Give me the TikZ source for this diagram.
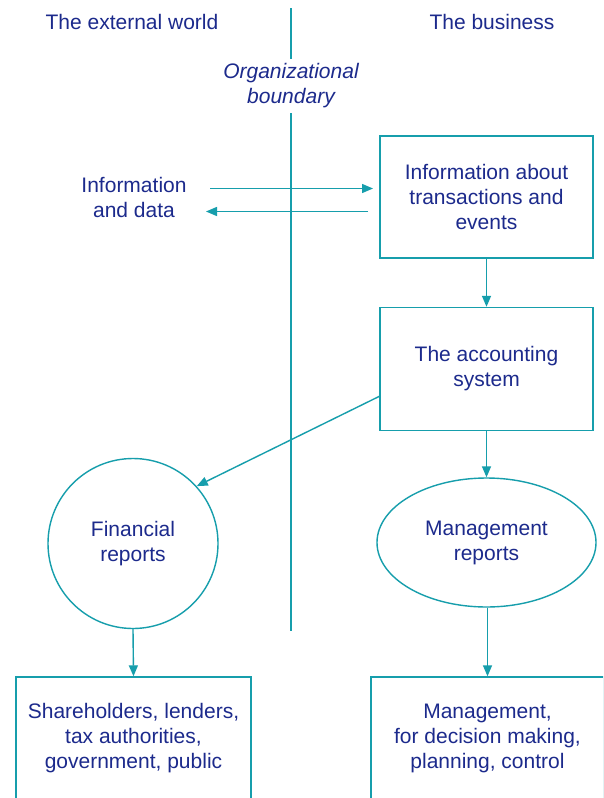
\documentclass[tikz,border=0pt]{standalone}
\usepackage{fontspec}
\setmainfont{Liberation Sans}
\usetikzlibrary{arrows.meta,shapes.geometric}
\definecolor{teal1}{RGB}{22,158,172}
\definecolor{ink}{RGB}{28,42,140}
\tikzset{
  every node/.style={font=\fontsize{21}{25}\selectfont, text=ink, align=center},
  conn/.style={draw=teal1, line width=1.4pt},
  arr/.style={conn, -{Triangle[length=11pt,width=9pt]}},
  boxx/.style={draw=teal1, line width=1.4pt, rectangle, inner sep=0pt},
}
\begin{document}
\begin{tikzpicture}[x=1pt,y=-1pt]
\clip (0,0) rectangle (603,798);
\fill[white] (0,0) rectangle (603,798);
% headings
\node (ext) at (132,22) {The external world};
\node (bus) at (492,22) {The business};
\node[font=\fontsize{21}{25}\selectfont\itshape] (org) at (291,86) {Organizational\\boundary};
% boundary line
\coordinate (ltop) at (291,8);
\coordinate (lga) at (291,59);
\coordinate (lgb) at (291,113);
\coordinate (lbot) at (291,631);
\draw[conn] (ltop) -- (lga);
\draw[conn] (lgb) -- (lbot);
% boxes
\node[boxx, minimum width=213pt, minimum height=122pt] (b1) at (486.5,197) {Information about\\transactions and\\events};
\node[boxx, minimum width=213pt, minimum height=123pt] (b2) at (486.5,369) {The accounting\\system};
\node[draw=teal1, line width=1.4pt, circle, minimum size=170pt, inner sep=0pt] (fin) at (133,543.5) {Financial\\reports};
\node[draw=teal1, line width=1.4pt, ellipse, minimum width=219pt, minimum height=129pt, inner sep=0pt] (mgr) at (486.5,542.5) {Management\\reports};
\node[boxx, minimum width=235pt, minimum height=123pt] (b3) at (133.5,738.5) {Shareholders, lenders,\\tax authorities,\\government, public};
\node[boxx, minimum width=233pt, minimum height=123pt] (b4) at (487.5,738.5) {Management,\\for decision making,\\planning, control};
% information and data
\node (info) at (134,197.5) {Information\\and data};
\coordinate (a1s) at (210,188.5);
\coordinate (a1e) at (373,188.5);
\coordinate (a2s) at (368,211.5);
\coordinate (a2e) at (206,211.5);
\draw[arr] (a1s) -- (a1e);
\draw[arr] (a2s) -- (a2e);
% flow arrows
\draw[arr] (b1.south) -- (b2.north);
\coordinate (b2l) at (380,396);
\draw[arr] (b2l) -- (fin.42);
\draw[arr] (b2.south) -- (mgr.north);
\draw[arr] (fin.south) -- (b3.north);
\draw[arr] (mgr.south -| b4.north) -- (b4.north);
\end{tikzpicture}
\end{document}
